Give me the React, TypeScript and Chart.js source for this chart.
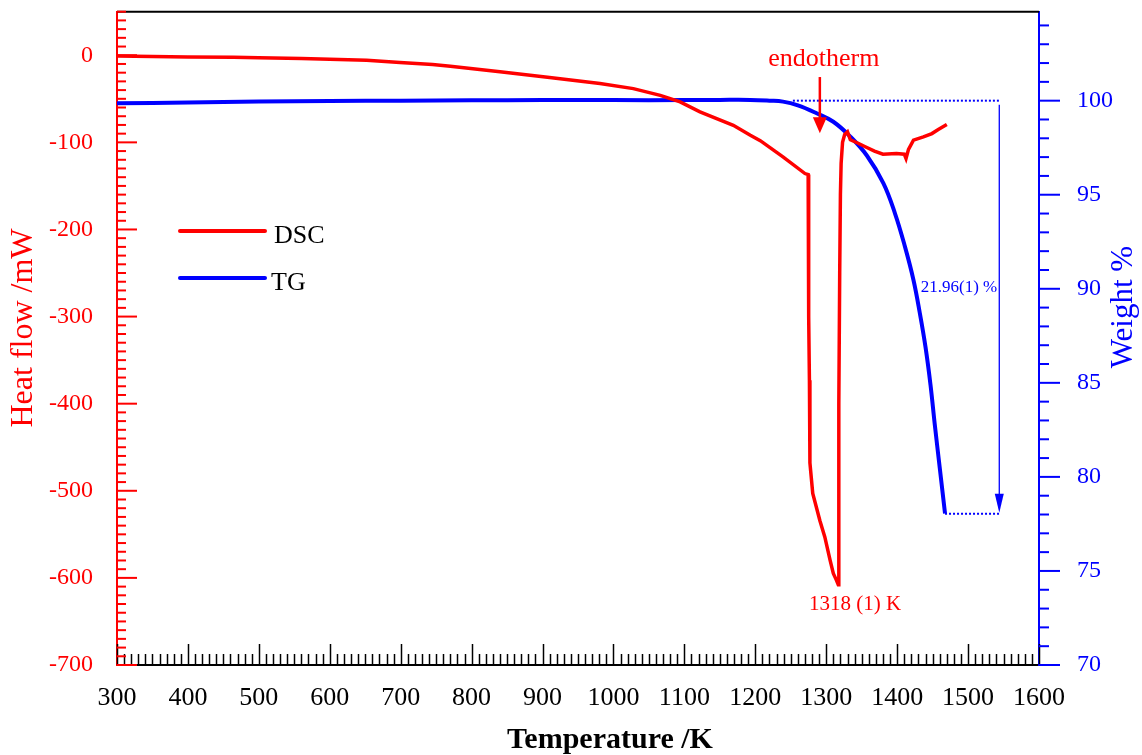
import React, { useEffect, useRef } from "react";
import { Chart, registerables } from "chart.js";

Chart.register(...registerables);

// ---- Data ----
const dscTemps = [300, 350, 400, 464, 500, 560, 600, 652, 699, 745, 770, 840, 910, 981, 1028, 1066, 1094, 1122, 1169, 1193, 1207, 1239, 1270, 1274.5, 1275, 1275.5, 1276.3, 1277, 1281, 1291, 1298, 1305.5, 1310, 1314, 1317, 1317.5, 1318, 1319, 1320, 1321, 1323, 1326, 1330, 1334, 1345, 1355, 1368, 1380, 1399, 1410, 1412.5, 1416, 1423, 1437, 1449, 1458, 1470];
const dscHeat = [-1, -1.5, -2, -2.3, -2.8, -3.8, -4.6, -5.7, -8.4, -10.6, -12.6, -19, -25.6, -32.5, -38.3, -46, -53.6, -65, -80.4, -91.8, -98, -116.7, -135.8, -137, -200, -300, -373, -468, -503, -534, -553, -580, -595, -602, -608, -500, -400, -250, -160, -124, -100, -91, -88, -97, -101, -105, -110, -113.6, -112.8, -113.6, -118.6, -108, -97.5, -93.7, -89.9, -85.3, -79.6];

const tgTemps = [300, 400, 500, 600, 700, 800, 900, 1000, 1100, 1150, 1193, 1220, 1239, 1260, 1286.5, 1310, 1334, 1357, 1380.5, 1397, 1411, 1423, 1432, 1440, 1447, 1453, 1460, 1467.5];
const tgWeight = [99.86, 99.9, 99.95, 99.98, 100, 100.02, 100.03, 100.03, 100.03, 100.04, 100.04, 100.0, 99.95, 99.75, 99.33, 98.88, 98.09, 97.1, 95.62, 94.0, 92.24, 90.47, 88.7, 86.9, 84.9, 82.8, 80.5, 78.05];

const xTickValues = [300, 400, 500, 600, 700, 800, 900, 1000, 1100, 1200, 1300, 1400, 1500, 1600];
const heatTickValues = [-700, -600, -500, -400, -300, -200, -100, 0];
const weightTickValues = [70, 75, 80, 85, 90, 95, 100];

// annotation values
const lossTopTemps = [1253, 1544];
const lossTopWeight = [100, 100];
const lossBottomTemps = [1467.5, 1544];
const lossBottomWeight = [78.04, 78.04];
const lossArrowTemp = 1544;
const lossArrowWeights = [100, 78.1];
const endoArrowTemp = 1291;
const endoArrowHeat = [-25, -89.5];
const peakTemp = 1318;
const peakHeat = -608;

const SERIF = "'Liberation Serif', 'Times New Roman', serif";
const RED = "#ff0000";
const BLUE = "#0000ff";

const toXY = (xs: number[], ys: number[]) => xs.map((x, i) => ({ x, y: ys[i] }));

const decorPlugin = {
  id: "decor",
  afterDraw(chart: any) {
    const { ctx, chartArea, scales } = chart;
    const x = scales.x;
    const yl = scales.yL;
    const yr = scales.yR;
    ctx.save();
    // top border
    ctx.strokeStyle = "#000";
    ctx.lineWidth = 2;
    ctx.beginPath();
    ctx.moveTo(chartArea.left, chartArea.top);
    ctx.lineTo(chartArea.right, chartArea.top);
    ctx.stroke();

    // x ticks (inward)
    ctx.strokeStyle = "#000";
    ctx.lineWidth = 1.5;
    for (let v = 300; v <= 1600; v += 10) {
      const px = Math.round(x.getPixelForValue(v)) + 0.5;
      const len = v % 100 === 0 ? 21 : 11;
      ctx.beginPath();
      ctx.moveTo(px, chartArea.bottom);
      ctx.lineTo(px, chartArea.bottom - len);
      ctx.stroke();
    }
    // left ticks (inward)
    ctx.strokeStyle = RED;
    ctx.lineWidth = 2;
    for (let v = -700; v <= 50; v += 10) {
      const py = yl.getPixelForValue(v);
      const len = v % 100 === 0 ? 20 : 9;
      ctx.beginPath();
      ctx.moveTo(chartArea.left, py);
      ctx.lineTo(chartArea.left + len, py);
      ctx.stroke();
    }
    // right ticks (outward)
    ctx.strokeStyle = BLUE;
    for (let v = 70; v <= 104; v += 1) {
      const py = yr.getPixelForValue(v);
      const len = v % 5 === 0 ? 21 : 10;
      ctx.beginPath();
      ctx.moveTo(chartArea.right, py);
      ctx.lineTo(chartArea.right + len, py);
      ctx.stroke();
    }

    // axis titles
    ctx.textAlign = "center";
    ctx.textBaseline = "middle";
    ctx.fillStyle = RED;
    ctx.font = `32px ${SERIF}`;
    ctx.save();
    ctx.translate(24, 328);
    ctx.rotate(-Math.PI / 2);
    ctx.fillText("Heat flow /mW", 0, 0);
    ctx.restore();

    ctx.fillStyle = BLUE;
    ctx.font = `31px ${SERIF}`;
    ctx.save();
    ctx.translate(1124, 307);
    ctx.rotate(-Math.PI / 2);
    ctx.fillText("Weight %", 0, 0);
    ctx.restore();

    ctx.fillStyle = "#000";
    ctx.font = `bold 30px ${SERIF}`;
    ctx.fillText("Temperature /K", 610, 740);

    // legend
    ctx.lineWidth = 4;
    ctx.lineCap = "round";
    ctx.strokeStyle = RED;
    ctx.beginPath();
    ctx.moveTo(180, 231);
    ctx.lineTo(265, 231);
    ctx.stroke();
    ctx.strokeStyle = BLUE;
    ctx.beginPath();
    ctx.moveTo(180, 278);
    ctx.lineTo(265, 278);
    ctx.stroke();
    ctx.lineCap = "butt";
    ctx.fillStyle = "#000";
    ctx.textAlign = "left";
    ctx.font = `26px ${SERIF}`;
    ctx.fillText("DSC", 274, 236);
    ctx.fillText("TG", 271, 283);

    // endotherm arrow
    const ex = x.getPixelForValue(endoArrowTemp);
    const eyTop = yl.getPixelForValue(endoArrowHeat[0]);
    const eyTip = yl.getPixelForValue(endoArrowHeat[1]);
    ctx.strokeStyle = RED;
    ctx.fillStyle = RED;
    ctx.lineWidth = 2.5;
    ctx.beginPath();
    ctx.moveTo(ex, eyTop);
    ctx.lineTo(ex, eyTip - 14);
    ctx.stroke();
    ctx.beginPath();
    ctx.moveTo(ex - 7, eyTip - 16);
    ctx.lineTo(ex + 7, eyTip - 16);
    ctx.lineTo(ex, eyTip);
    ctx.closePath();
    ctx.fill();
    ctx.textAlign = "center";
    ctx.textBaseline = "alphabetic";
    ctx.font = `26px ${SERIF}`;
    ctx.fillText("endotherm", ex + 4, 66);

    // peak label
    ctx.font = `21px ${SERIF}`;
    ctx.textBaseline = "middle";
    ctx.fillText("1318 (1) K", x.getPixelForValue(peakTemp) + 16, yl.getPixelForValue(peakHeat) + 20);

    // mass loss arrow
    const lx = x.getPixelForValue(lossArrowTemp);
    const lyTop = yr.getPixelForValue(lossArrowWeights[0]);
    const lyTip = yr.getPixelForValue(lossArrowWeights[1]);
    ctx.strokeStyle = BLUE;
    ctx.fillStyle = BLUE;
    ctx.lineWidth = 1.3;
    ctx.beginPath();
    ctx.moveTo(lx, lyTop + 4);
    ctx.lineTo(lx, lyTip - 10);
    ctx.stroke();
    ctx.beginPath();
    ctx.moveTo(lx - 4.5, lyTip - 19);
    ctx.lineTo(lx + 4.5, lyTip - 19);
    ctx.lineTo(lx, lyTip);
    ctx.closePath();
    ctx.fill();
    ctx.font = `17px ${SERIF}`;
    ctx.textAlign = "right";
    ctx.fillText("21.96(1) %", lx - 2, 288);

    ctx.restore();
  },
};

export default function App() {
  const ref = useRef<HTMLCanvasElement | null>(null);
  useEffect(() => {
    if (!ref.current) return;
    const noPad = (s: any) => {
      s.paddingTop = 0;
      s.paddingBottom = 0;
    };
    const chart = new Chart(ref.current, {
      type: "line",
      data: {
        datasets: [
          {
            label: "DSC",
            data: toXY(dscTemps, dscHeat),
            yAxisID: "yL",
            borderColor: RED,
            borderWidth: 3.5,
            pointRadius: 0,
            tension: 0,
            fill: false,
          },
          {
            label: "TG",
            data: toXY(tgTemps, tgWeight),
            yAxisID: "yR",
            borderColor: BLUE,
            borderWidth: 4,
            pointRadius: 0,
            tension: 0.4,
            fill: false,
          },
          {
            label: "loss-top",
            data: toXY(lossTopTemps, lossTopWeight),
            yAxisID: "yR",
            borderColor: BLUE,
            borderWidth: 2,
            borderDash: [2, 2],
            pointRadius: 0,
            fill: false,
          },
          {
            label: "loss-bottom",
            data: toXY(lossBottomTemps, lossBottomWeight),
            yAxisID: "yR",
            borderColor: BLUE,
            borderWidth: 2,
            borderDash: [2, 2],
            pointRadius: 0,
            fill: false,
          },
        ],
      },
      options: {
        animation: false,
        responsive: true,
        maintainAspectRatio: false,
        layout: { padding: { top: 11.7, left: 0, right: 0, bottom: 0 } },
        plugins: {
          legend: { display: false },
          tooltip: { enabled: false },
        },
        scales: {
          x: {
            type: "linear",
            position: "bottom",
            min: 300,
            max: 1600,
            grid: { display: false, drawTicks: false },
            border: { display: true, color: "#000", width: 2 },
            afterBuildTicks: (s: any) => {
              s.ticks = xTickValues.map((v) => ({ value: v }));
            },
            afterFit: (s: any) => {
              s.height = 90;
              s.paddingLeft = 0;
              s.paddingRight = 0;
            },
            ticks: {
              autoSkip: false,
              maxRotation: 0,
              padding: 18,
              color: "#000",
              font: { family: SERIF, size: 26 },
              callback: (v: any) => String(v),
            },
          },
          yL: {
            type: "linear",
            position: "left",
            min: -700,
            max: 50,
            grid: { display: false, drawTicks: false },
            border: { display: true, color: RED, width: 2 },
            afterBuildTicks: (s: any) => {
              s.ticks = heatTickValues.map((v) => ({ value: v }));
            },
            afterFit: (s: any) => {
              s.width = 117;
              noPad(s);
            },
            ticks: {
              padding: 24,
              color: RED,
              font: { family: SERIF, size: 24 },
              callback: (v: any) => String(v),
            },
          },
          yR: {
            type: "linear",
            position: "right",
            min: 70,
            max: 104.73,
            grid: { display: false, drawTicks: false },
            border: { display: true, color: BLUE, width: 2 },
            afterBuildTicks: (s: any) => {
              s.ticks = weightTickValues.map((v) => ({ value: v }));
            },
            afterFit: (s: any) => {
              s.width = 103;
              noPad(s);
            },
            ticks: {
              padding: 38,
              color: BLUE,
              font: { family: SERIF, size: 24 },
              callback: (v: any) => String(v),
            },
          },
        },
      },
      plugins: [decorPlugin],
    } as any);
    return () => chart.destroy();
  }, []);

  return (
    <div style={{ position: "fixed", left: 0, top: 0, width: 1142, height: 755, background: "#fff" }}>
      <canvas ref={ref} />
    </div>
  );
}
